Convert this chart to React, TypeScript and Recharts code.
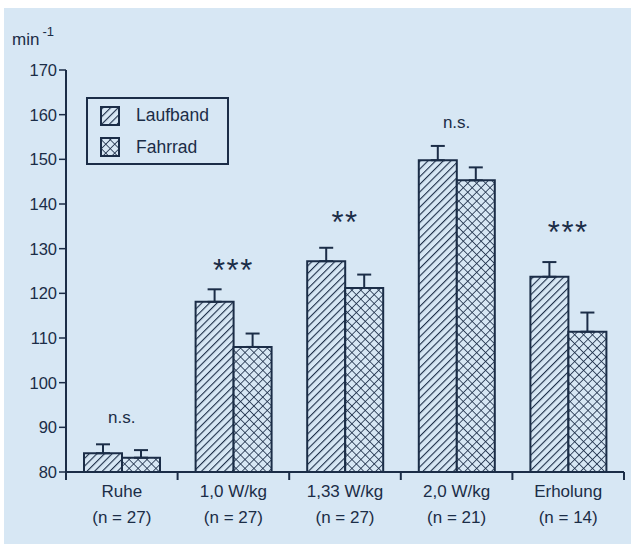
import React from 'react';
import {
  BarChart,
  Bar,
  XAxis,
  YAxis,
  ErrorBar,
  ReferenceDot
} from 'recharts';

const categories = ['Ruhe', '1,0 W/kg', '1,33 W/kg', '2,0 W/kg', 'Erholung'];
const nLabels = ['(n = 27)', '(n = 27)', '(n = 27)', '(n = 21)', '(n = 14)'];
const laufband = [84.2, 118.1, 127.2, 149.8, 123.7];
const laufbandErr = [2.0, 2.8, 3.0, 3.2, 3.3];
const fahrrad = [83.2, 108.0, 121.2, 145.3, 111.4];
const fahrradErr = [1.7, 3.0, 3.0, 2.9, 4.3];
const sigLabels = ['n.s.', '***', '**', 'n.s.', '***'];
const sigY = [92.1, 126.1, 136.8, 158.1, 134.6];
const yTicks = [80, 90, 100, 110, 120, 130, 140, 150, 160, 170];

const INK = '#1b2d47';
const BG = '#d7e7f4';
const FONT = '"Liberation Sans", Arial, Helvetica, sans-serif';

const data = categories.map((c, i) => ({
  name: c,
  laufband: laufband[i],
  laufbandErr: [0, laufbandErr[i]],
  fahrrad: fahrrad[i],
  fahrradErr: [0, fahrradErr[i]]
}));

// category label (two lines) plus the small tick marks at the group boundaries
const CategoryTick = (props: any) => {
  const { x, y, payload, index, width } = props;
  const half = payload?.offset || (width ? width / categories.length / 2 : 56);
  const last = index === categories.length - 1;
  return (
    <g>
      <line x1={x - half} y1={y} x2={x - half} y2={y + 8} stroke={INK} strokeWidth={2} />
      {last && <line x1={x + half} y1={y} x2={x + half} y2={y + 8} stroke={INK} strokeWidth={2} />}
      <text x={x} y={y} textAnchor="middle" fill={INK} fontSize={17} fontFamily={FONT}>
        <tspan x={x} dy={25}>{payload.value}</tspan>
        <tspan x={x} dy={26}>{nLabels[index] ?? ''}</tspan>
      </text>
    </g>
  );
};

const Patterns = ({ prefix }: { prefix: string }) => (
  <defs>
    <pattern id={`${prefix}-hatch`} width="5.4" height="5.4" patternUnits="userSpaceOnUse" patternTransform="rotate(45)">
      <rect width="5.4" height="5.4" fill={BG} />
      <line x1="0" y1="0" x2="0" y2="5.4" stroke={INK} strokeWidth="2.2" />
    </pattern>
    <pattern id={`${prefix}-cross`} width="6.3" height="6.3" patternUnits="userSpaceOnUse" patternTransform="rotate(45)">
      <rect width="6.3" height="6.3" fill={BG} />
      <line x1="0" y1="0" x2="0" y2="6.3" stroke={INK} strokeWidth="1.6" />
      <line x1="0" y1="0" x2="6.3" y2="0" stroke={INK} strokeWidth="1.6" />
    </pattern>
  </defs>
);

const SigMark = (label: string) => (p: any) => {
  const stars = label.startsWith('*');
  return (
    <text
      x={p.cx}
      y={p.cy}
      dy={stars ? 15 : 5}
      textAnchor="middle"
      fill={INK}
      fontFamily={FONT}
      fontSize={stars ? 31 : 17}
      letterSpacing={stars ? 1.5 : 0}
    >
      {label}
    </text>
  );
};

const LegendBox = () => (
  <div
    style={{
      position: 'absolute',
      left: 86,
      top: 97,
      width: 139,
      height: 64,
      border: `2px solid ${INK}`
    }}
  >
    <svg width={139} height={64} style={{ position: 'absolute', left: 0, top: 0 }}>
      <Patterns prefix="lg" />
      <rect x={13} y={8} width={18} height={18} fill="url(#lg-hatch)" stroke={INK} strokeWidth={2} />
      <rect x={13} y={39} width={18} height={18} fill="url(#lg-cross)" stroke={INK} strokeWidth={2} />
      <text x={48} y={22} fill={INK} fontSize={17.5} fontFamily={FONT}>Laufband</text>
      <text x={48} y={54} fill={INK} fontSize={17.5} fontFamily={FONT}>Fahrrad</text>
    </svg>
  </div>
);

export default function App() {
  return (
    <div style={{ position: 'absolute', left: 0, top: 0, width: 637, height: 544, background: '#ffffff' }}>
      <div style={{ position: 'absolute', left: 4, top: 8, width: 627, height: 536, background: BG }} />
      <div style={{ position: 'absolute', left: 0, top: 0 }}>
        <BarChart
          width={637}
          height={544}
          data={data}
          margin={{ top: 70, right: 13, left: 6, bottom: 22 }}
          barSize={38}
          barGap={0}
        >
          <Patterns prefix="ch" />
          <XAxis
            xAxisId="cat"
            dataKey="name"
            height={50}
            tickSize={0}
            tickMargin={0}
            tickLine={false}
            axisLine={{ stroke: INK, strokeWidth: 2 }}
            tick={<CategoryTick />}
            interval={0}
          />
          <XAxis
            xAxisId="top"
            orientation="top"
            dataKey="name"
            height={0}
            tick={false}
            tickLine={false}
            axisLine={{ stroke: INK, strokeWidth: 2 }}
          />
          <YAxis
            domain={[80, 170]}
            ticks={yTicks}
            width={60}
            tickSize={7}
            tickMargin={2}
            allowDataOverflow
            axisLine={{ stroke: INK, strokeWidth: 2 }}
            tickLine={{ stroke: INK, strokeWidth: 1.5 }}
            tick={{ fill: INK, fontSize: 16.5, fontFamily: FONT }}
          />
          <YAxis
            yAxisId="right"
            orientation="right"
            width={0}
            tick={false}
            tickLine={false}
            axisLine={{ stroke: INK, strokeWidth: 2 }}
          />
          <Bar
            xAxisId="cat"
            dataKey="laufband"
            fill="url(#ch-hatch)"
            stroke={INK}
            strokeWidth={2}
            isAnimationActive={false}
          >
            <ErrorBar dataKey="laufbandErr" width={7} stroke={INK} strokeWidth={2} direction="y" />
          </Bar>
          <Bar
            xAxisId="cat"
            dataKey="fahrrad"
            fill="url(#ch-cross)"
            stroke={INK}
            strokeWidth={2}
            isAnimationActive={false}
          >
            <ErrorBar dataKey="fahrradErr" width={7} stroke={INK} strokeWidth={2} direction="y" />
          </Bar>
          {categories.map((c, i) => (
            <ReferenceDot
              key={c}
              xAxisId="cat"
              x={c}
              y={sigY[i]}
              r={0}
              shape={SigMark(sigLabels[i])}
            />
          ))}
        </BarChart>
      </div>
      <LegendBox />
      <div style={{ position: 'absolute', left: 12, top: 26, fontFamily: FONT, fontSize: 17, color: INK }}>
        min<sup style={{ fontSize: 13, marginLeft: 3, position: 'relative', top: -2 }}>-1</sup>
      </div>
    </div>
  );
}
